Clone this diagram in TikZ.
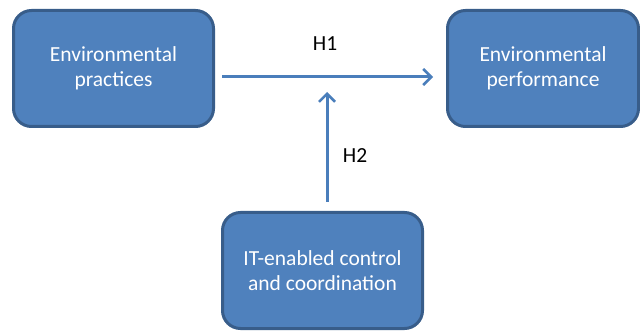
\documentclass[tikz,border=0pt]{standalone}
\usepackage{fontspec}
\setmainfont{Carlito}
\usetikzlibrary{arrows.meta}

\definecolor{boxfill}{HTML}{4F81BD}
\definecolor{boxline}{HTML}{385D8A}
\definecolor{arrowcol}{HTML}{4A7EBB}

\tikzset{
  construct/.style={draw=boxline, fill=boxfill, line width=3pt, rounded corners=18pt,
    text=white, align=center, font=\fontsize{21.5}{25}\selectfont},
  hyp/.style={draw=arrowcol, line width=3pt, -{Straight Barb[length=8pt,width=16pt,line width=2.5pt]}},
}

\begin{document}
\begin{tikzpicture}[x=1pt,y=-1pt]
\useasboundingbox (0,0) rectangle (640,331);
\node[construct, minimum width=200pt, minimum height=116pt] (prac) at (113.5,68.5) {Environmental\\practices};
\node[construct, minimum width=191pt, minimum height=116pt] (perf) at (543,68.5) {Environmental\\performance};
\node[construct, minimum width=200pt, minimum height=116pt] (itcc) at (322.5,270.5) {IT-enabled control\\and coordination};
\coordinate (join) at (327,92);
\draw[hyp, shorten <=7pt, shorten >=13pt] (prac.east |- 0,77) -- (perf.west |- 0,77);
\draw[hyp, shorten <=9pt] (itcc.north -| join) -- (join);
\node[font=\fontsize{21.5}{25}\selectfont] (h1) at (325,44) {H1};
\node[font=\fontsize{21.5}{25}\selectfont] (h2) at (355,156) {H2};
\end{tikzpicture}
\end{document}
